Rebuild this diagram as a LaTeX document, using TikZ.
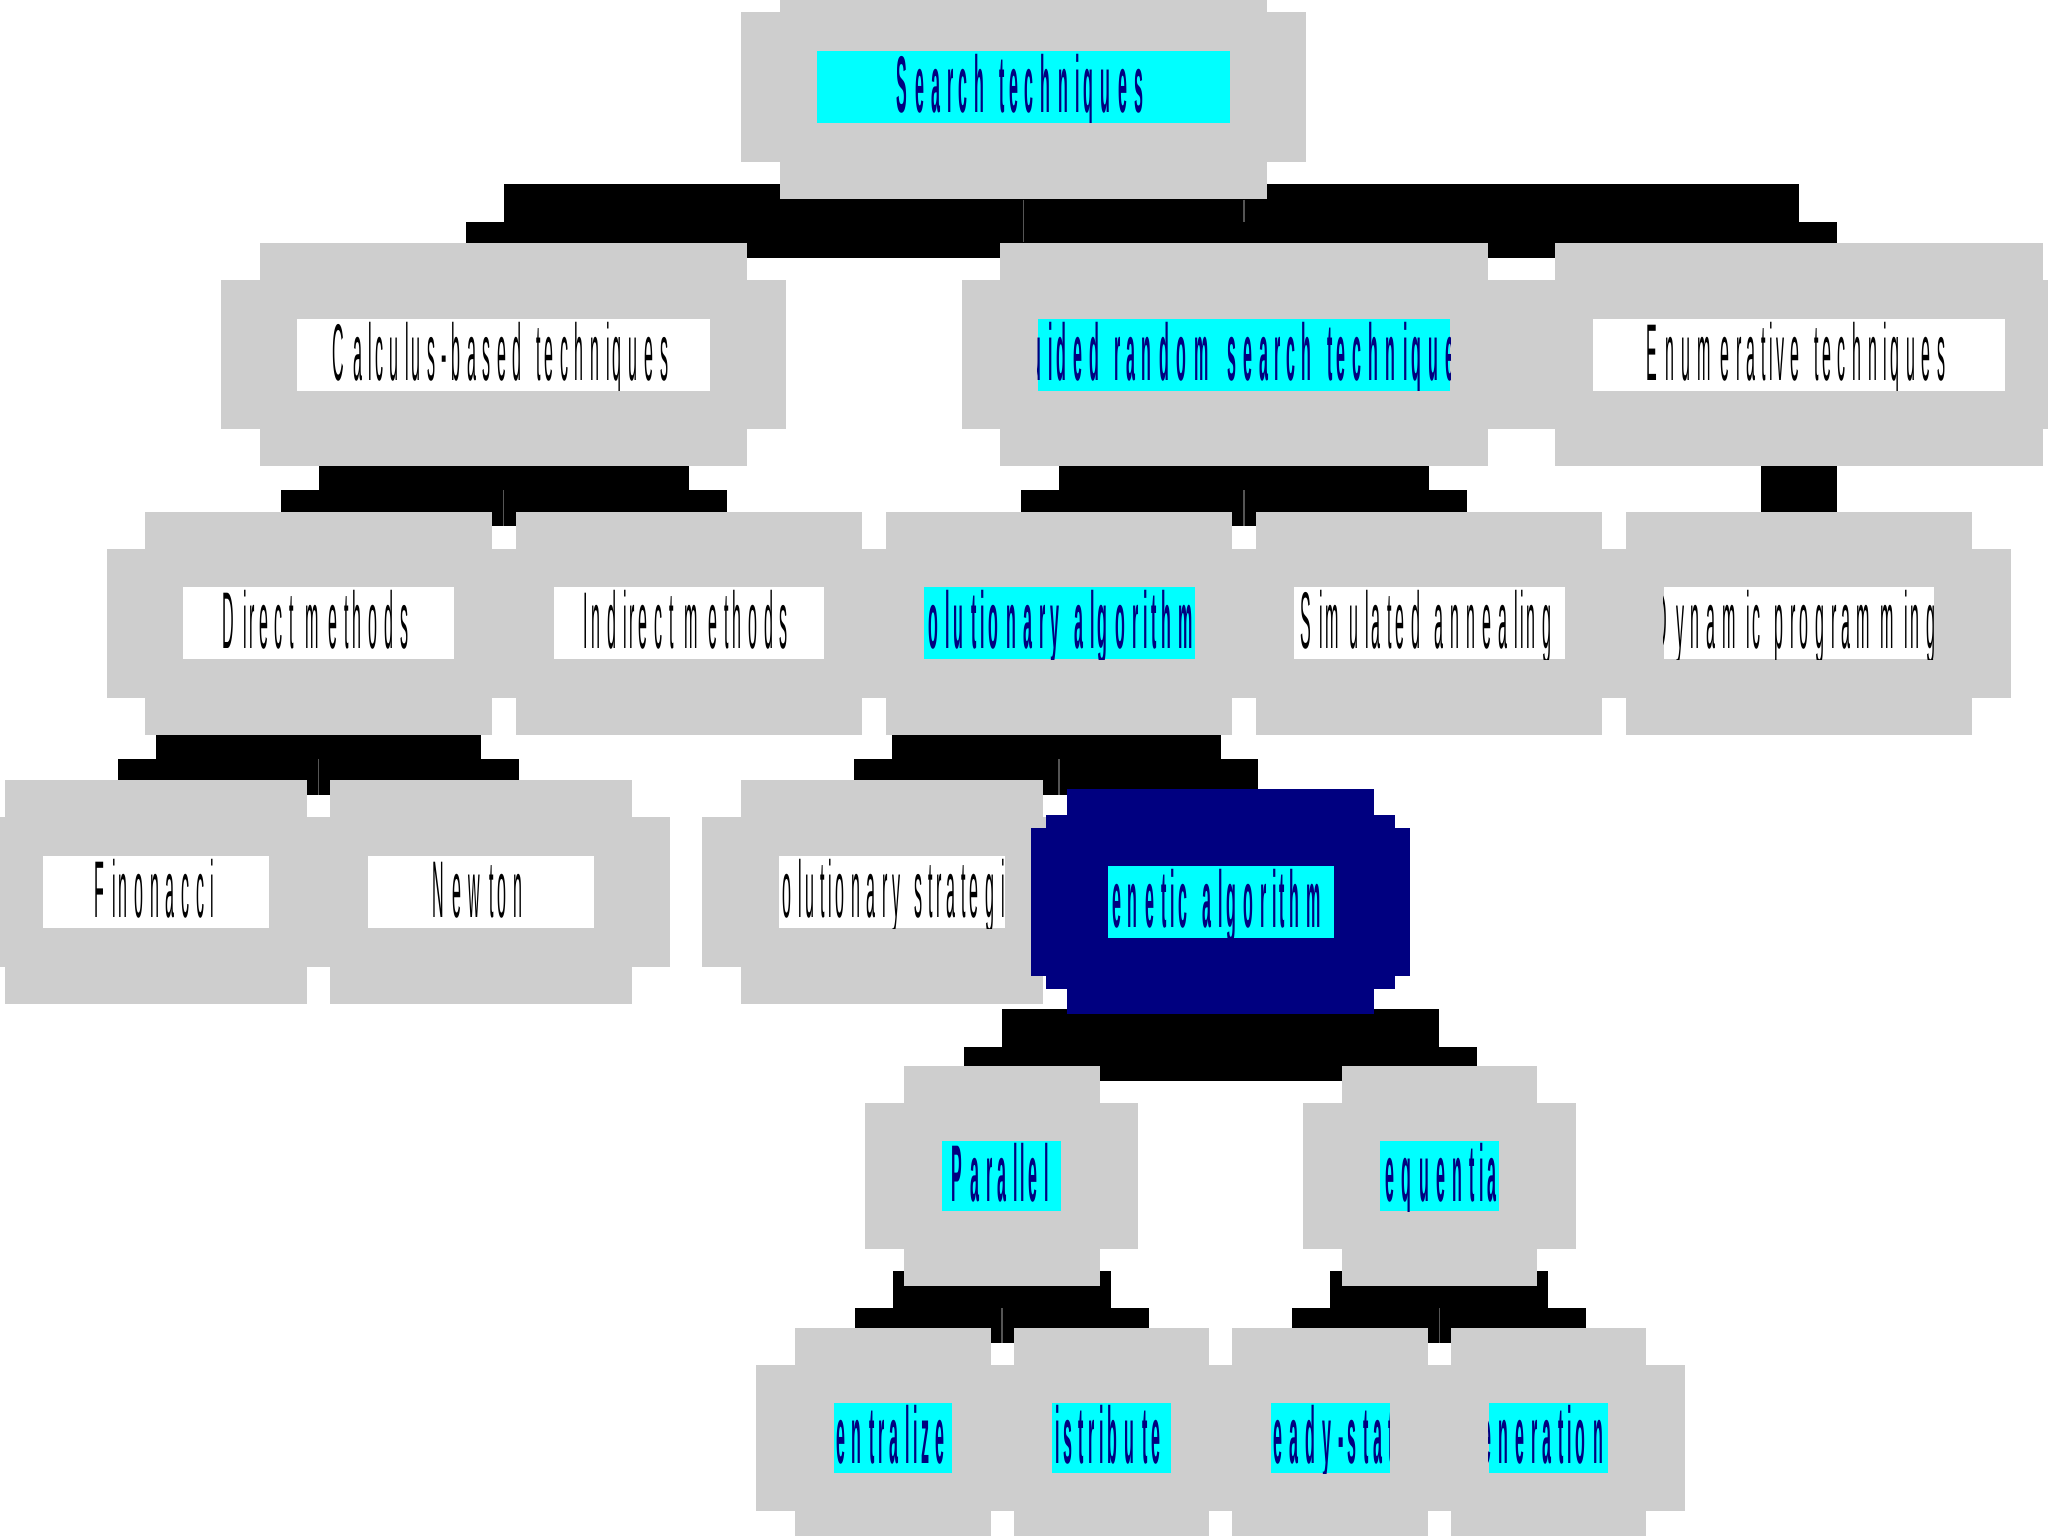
\documentclass[tikz,border=0pt]{standalone}
\usepackage{fontspec}
\usepackage{graphicx,xcolor}
\definecolor{stgray}{RGB}{206,206,206}
\definecolor{stcyan}{RGB}{0,255,255}
\definecolor{stnavy}{RGB}{0,0,128}
\definecolor{stseam}{RGB}{85,85,85}
\newfontfamily\emffont{Liberation Sans}
\usetikzlibrary{calc,backgrounds}

%% squeezed letters on a wide pitch
\ExplSyntaxOn
\NewDocumentCommand \emfstr { m }
  { \str_map_inline:nn {#1} { \emfchar {##1} } }
\ExplSyntaxOff
\newcommand\emfchar[1]{\setbox0=\hbox{#1}\hbox to 0.3545\wd0{\scalebox{0.2}[1]{#1}\hss}}
\newcommand\emfR[1]{{\emffont\fontsize{17.5pt}{17.5pt}\selectfont\color{black}\emfstr{#1}}}
\newcommand\emfB[1]{{\emffont\bfseries\fontsize{17.5pt}{17.5pt}\selectfont\color{stnavy}\emfstr{#1}}}

\tikzset{
  gbox/.style={rectangle,fill=stgray,inner sep=0pt,minimum height=1.71cm},
  lbl/.style={rectangle,fill=white,inner sep=0pt,minimum height=0.55cm},
  txt/.style={inner sep=0pt,outer sep=0pt,minimum width=0pt,minimum height=0pt,fill=none,draw=none},
  ctext/.style={path picture={\node[txt,anchor=base] at ([yshift=-0.195cm]path picture bounding box.center) {#1};}},
  otext/.style 2 args={path picture={\node[txt,anchor=base west] at ([xshift=#1,yshift=-0.195cm]path picture bounding box.center) {#2};}},
  conn/.style={fill=black},
  seam/.style={draw=stseam,line width=0.35pt}
}

\begin{document}
\begin{tikzpicture}[x=0.01cm,y=-0.01cm]
  \useasboundingbox (0,0) rectangle (1568,1176);
  \clip (0,0) rectangle (1568,1176);

  %% Gray boxes, top to bottom
  \node[gbox,minimum width=3.73cm] (search) at (783.5,66.5) {};
  \node[gbox,minimum width=3.73cm] (calc) at (385.5,271.5) {};
  \node[gbox,minimum width=3.73cm] (guided) at (952.5,271.5) {};
  \node[gbox,minimum width=3.73cm] (enum) at (1377.5,271.5) {};
  \node[gbox,minimum width=2.65cm] (direct) at (243.9,477.3) {};
  \node[gbox,minimum width=2.65cm] (indirect) at (527.4,477.3) {};
  \node[gbox,minimum width=2.65cm] (evoalg) at (811,477.3) {};
  \node[gbox,minimum width=2.65cm] (simann) at (1094.3,477.3) {};
  \node[gbox,minimum width=2.65cm] (dynprog) at (1377.5,477.3) {};
  \node[gbox,minimum width=2.31cm] (fibo) at (119.2,683) {};
  \node[gbox,minimum width=2.31cm] (newton) at (368,683) {};
  \node[gbox,minimum width=2.31cm] (evostrat) at (683,683) {};
  \node[gbox,minimum width=1.495cm,minimum height=1.68cm] (parallel) at (767.1,900.5) {};
  \node[gbox,minimum width=1.495cm,minimum height=1.68cm] (sequential) at (1102.1,900.5) {};
  \node[gbox,minimum width=1.495cm,minimum height=1.68cm] (central) at (683.7,1101) {};
  \node[gbox,minimum width=1.495cm,minimum height=1.68cm] (distrib) at (850.9,1101) {};
  \node[gbox,minimum width=1.495cm,minimum height=1.68cm] (steady) at (1018.4,1101) {};
  \node[gbox,minimum width=1.495cm,minimum height=1.68cm] (generat) at (1185.4,1101) {};

  %% Side wings of the gray boxes
  \fill[stgray] ([shift={(-0.29cm,-0.29cm)}]search.north west) rectangle ([shift={(0.29cm,0.29cm)}]search.south east);
  \fill[stgray] ([shift={(-0.29cm,-0.29cm)}]calc.north west) rectangle ([shift={(0.29cm,0.29cm)}]calc.south east);
  \fill[stgray] ([shift={(-0.29cm,-0.29cm)}]guided.north west) rectangle ([shift={(0.29cm,0.29cm)}]guided.south east);
  \fill[stgray] ([shift={(-0.29cm,-0.29cm)}]enum.north west) rectangle ([shift={(0.29cm,0.29cm)}]enum.south east);
  \fill[stgray] ([shift={(-0.29cm,-0.29cm)}]direct.north west) rectangle ([shift={(0.29cm,0.29cm)}]direct.south east);
  \fill[stgray] ([shift={(-0.29cm,-0.29cm)}]indirect.north west) rectangle ([shift={(0.29cm,0.29cm)}]indirect.south east);
  \fill[stgray] ([shift={(-0.29cm,-0.29cm)}]evoalg.north west) rectangle ([shift={(0.29cm,0.29cm)}]evoalg.south east);
  \fill[stgray] ([shift={(-0.29cm,-0.29cm)}]simann.north west) rectangle ([shift={(0.29cm,0.29cm)}]simann.south east);
  \fill[stgray] ([shift={(-0.29cm,-0.29cm)}]dynprog.north west) rectangle ([shift={(0.29cm,0.29cm)}]dynprog.south east);
  \fill[stgray] ([shift={(-0.29cm,-0.29cm)}]fibo.north west) rectangle ([shift={(0.29cm,0.29cm)}]fibo.south east);
  \fill[stgray] ([shift={(-0.29cm,-0.29cm)}]newton.north west) rectangle ([shift={(0.29cm,0.29cm)}]newton.south east);
  \fill[stgray] ([shift={(-0.29cm,-0.29cm)}]evostrat.north west) rectangle ([shift={(0.29cm,0.29cm)}]evostrat.south east);
  \fill[stgray] ([shift={(-0.29cm,-0.29cm)}]parallel.north west) rectangle ([shift={(0.29cm,0.29cm)}]parallel.south east);
  \fill[stgray] ([shift={(-0.29cm,-0.29cm)}]sequential.north west) rectangle ([shift={(0.29cm,0.29cm)}]sequential.south east);
  \fill[stgray] ([shift={(-0.29cm,-0.29cm)}]central.north west) rectangle ([shift={(0.29cm,0.29cm)}]central.south east);
  \fill[stgray] ([shift={(-0.29cm,-0.29cm)}]distrib.north west) rectangle ([shift={(0.29cm,0.29cm)}]distrib.south east);
  \fill[stgray] ([shift={(-0.29cm,-0.29cm)}]steady.north west) rectangle ([shift={(0.29cm,0.29cm)}]steady.south east);
  \fill[stgray] ([shift={(-0.29cm,-0.29cm)}]generat.north west) rectangle ([shift={(0.29cm,0.29cm)}]generat.south east);

  %% Dark blue stepped box
  \node[fill=stnavy,inner sep=0pt,minimum width=2.35cm,minimum height=1.72cm] (gen) at (934.5,690.5) {};
  \fill[stnavy] ([shift={(-1.335cm,0.665cm)}]gen.center) rectangle ([shift={(1.335cm,-0.665cm)}]gen.center);
  \fill[stnavy] ([shift={(-1.45cm,0.565cm)}]gen.center) rectangle ([shift={(1.45cm,-0.565cm)}]gen.center);

  %% Labels
  \node[lbl,fill=stcyan,minimum width=3.155cm,ctext={\emfB{Search techniques}}] (searchL) at (search) {};
  \node[lbl,minimum width=3.155cm,ctext={\emfR{Calculus-based techniques}}] (calcL) at (calc) {};
  \node[lbl,fill=stcyan,minimum width=3.155cm,otext={-1.63cm}{\emfB{uided random search technique}}] (guidedL) at (guided) {};
  \node[lbl,minimum width=3.155cm,ctext={\emfR{Enumerative techniques}}] (enumL) at (enum) {};
  \node[lbl,minimum width=2.07cm,ctext={\emfR{Direct methods}}] (directL) at (direct) {};
  \node[lbl,minimum width=2.07cm,ctext={\emfR{Indirect methods}}] (indirectL) at (indirect) {};
  \node[lbl,fill=stcyan,minimum width=2.07cm,otext={-1.0cm}{\emfB{olutionary algorithm}}] (evoalgL) at (evoalg) {};
  \node[lbl,minimum width=2.07cm,ctext={\emfR{Simulated annealing}}] (simannL) at (simann) {};
  \node[lbl,minimum width=2.07cm,ctext={\emfR{Dynamic programming}}] (dynprogL) at (dynprog) {};
  \node[lbl,minimum width=1.73cm,ctext={\emfR{Finonacci}}] (fiboL) at (fibo) {};
  \node[lbl,minimum width=1.73cm,ctext={\emfR{Newton}}] (newtonL) at (newton) {};
  \node[lbl,minimum width=1.73cm,otext={-0.835cm}{\emfR{olutionary strategi}}] (evostratL) at (evostrat) {};
  \node[lbl,fill=stcyan,minimum width=1.73cm,otext={-0.83cm}{\emfB{enetic algorithm}}] (genL) at (gen) {};
  \node[lbl,fill=stcyan,minimum width=0.91cm,minimum height=0.54cm,ctext={\emfB{Parallel}}] (parallelL) at (parallel) {};
  \node[lbl,fill=stcyan,minimum width=0.91cm,minimum height=0.54cm,otext={-0.41cm}{\emfB{equentia}}] (sequentialL) at (sequential) {};
  \node[lbl,fill=stcyan,minimum width=0.91cm,minimum height=0.54cm,otext={-0.435cm}{\emfB{entralize}}] (centralL) at (central) {};
  \node[lbl,fill=stcyan,minimum width=0.91cm,minimum height=0.54cm,otext={-0.43cm}{\emfB{istribute}}] (distribL) at (distrib) {};
  \node[lbl,fill=stcyan,minimum width=0.91cm,minimum height=0.54cm,otext={-0.435cm}{\emfB{eady-stat}}] (steadyL) at (steady) {};
  \node[lbl,fill=stcyan,minimum width=0.91cm,minimum height=0.54cm,otext={-0.505cm}{\emfB{eneration}}] (generatL) at (generat) {};

  \begin{scope}[on background layer]
    %% Black connector blocks
    \fill[conn] ($(calc |- search.south)+(0,0.12cm)$) rectangle ($(enum.north)+(0,-0.12cm)$);
    \fill[conn] ($(calc |- search.south)+(-0.29cm,-0.17cm)$) rectangle ($(enum.north)+(0.29cm,-0.12cm)$);
    \fill[conn] ($(direct |- calc.south)+(0,0.12cm)$) rectangle ($(indirect.north)+(0,-0.12cm)$);
    \fill[conn] ($(direct |- calc.south)+(-0.29cm,-0.175cm)$) rectangle ($(indirect.north)+(0.29cm,-0.12cm)$);
    \fill[conn] ($(evoalg |- guided.south)+(0,0.12cm)$) rectangle ($(simann.north)+(0,-0.12cm)$);
    \fill[conn] ($(evoalg |- guided.south)+(-0.29cm,-0.175cm)$) rectangle ($(simann.north)+(0.29cm,-0.12cm)$);
    \fill[conn] ($(enum.south)+(-0.29cm,0.12cm)$) rectangle ($(dynprog.north)+(0.29cm,-0.12cm)$);
    \fill[conn] ($(fibo |- direct.south)+(0,0.12cm)$) rectangle ($(newton.north)+(0,-0.12cm)$);
    \fill[conn] ($(fibo |- direct.south)+(-0.29cm,-0.175cm)$) rectangle ($(newton.north)+(0.29cm,-0.12cm)$);
    \fill[conn] ($(evostrat |- evoalg.south)+(0,0.12cm)$) rectangle ($(gen |- evostrat.north)+(0,-0.12cm)$);
    \fill[conn] ($(evostrat |- evoalg.south)+(-0.29cm,-0.175cm)$) rectangle ($(gen |- evostrat.north)+(0.29cm,-0.12cm)$);
    \fill[conn] ($(parallel |- gen.south)+(0,0.05cm)$) rectangle ($(sequential.north)+(0,-0.12cm)$);
    \fill[conn] ($(parallel |- gen.south)+(-0.29cm,-0.24cm)$) rectangle ($(sequential.north)+(0.29cm,-0.12cm)$);
    \fill[conn] ($(central |- parallel.south)+(0,0.12cm)$) rectangle ($(distrib.north)+(0,-0.12cm)$);
    \fill[conn] ($(central |- parallel.south)+(-0.29cm,-0.165cm)$) rectangle ($(distrib.north)+(0.29cm,-0.12cm)$);
    \fill[conn] ($(steady |- sequential.south)+(0,0.12cm)$) rectangle ($(generat.north)+(0,-0.12cm)$);
    \fill[conn] ($(steady |- sequential.south)+(-0.29cm,-0.165cm)$) rectangle ($(generat.north)+(0.29cm,-0.12cm)$);

    %% Connector lines
    \draw[seam] (search.south) -- (search.south |- guided.north);
    \draw[seam] (guided |- search.south) -- ++(0,-0.17cm);
    \draw[seam] ($(calc.south)+(0,-0.175cm)$) -- ($(calc |- direct.north)+(0,-0.12cm)$);
    \draw[seam] ($(guided.south)+(0,-0.175cm)$) -- ($(guided |- evoalg.north)+(0,-0.12cm)$);
    \draw[seam] ($(direct.south)+(0,-0.175cm)$) -- ($(direct |- fibo.north)+(0,-0.12cm)$);
    \draw[seam] ($(evoalg.south)+(0,-0.175cm)$) -- ($(evoalg |- evostrat.north)+(0,-0.12cm)$);
    \draw[seam] ($(parallel.south)+(0,-0.165cm)$) -- ($(parallel |- central.north)+(0,-0.12cm)$);
    \draw[seam] ($(sequential.south)+(0,-0.165cm)$) -- ($(sequential |- steady.north)+(0,-0.12cm)$);
  \end{scope}
\end{tikzpicture}
\end{document}
